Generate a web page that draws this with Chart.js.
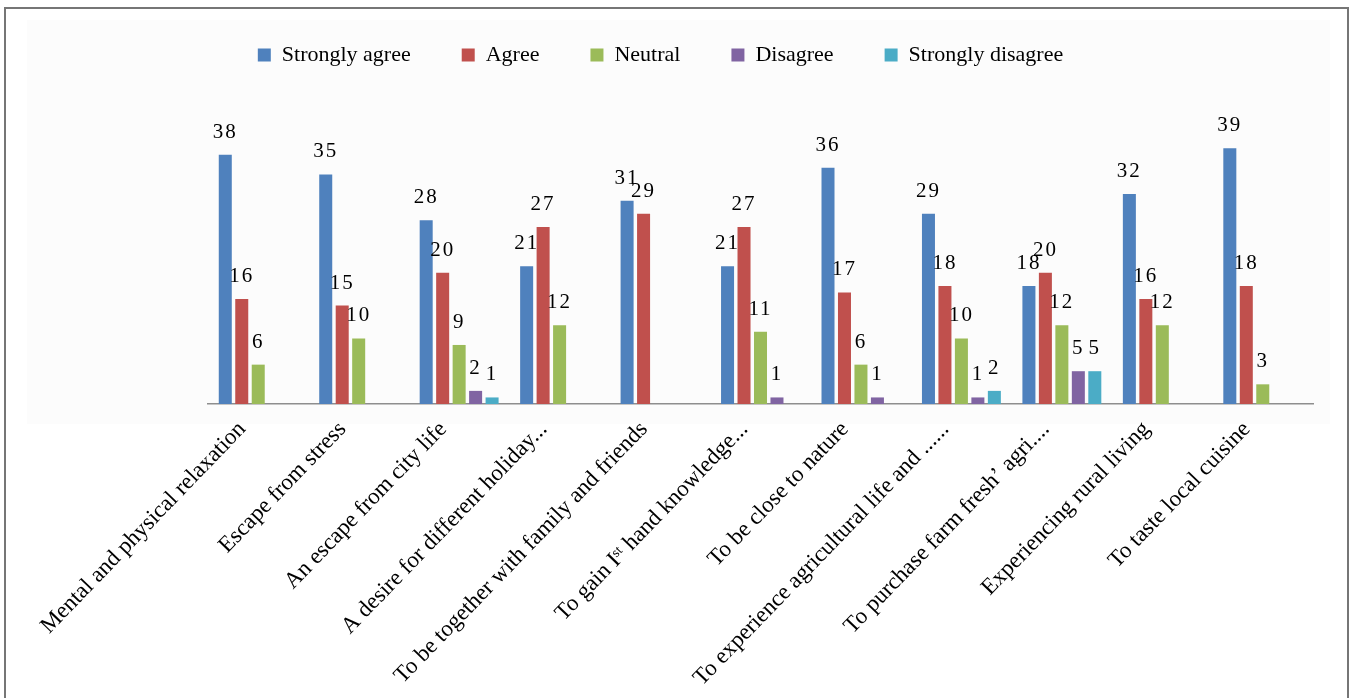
<!DOCTYPE html>
<html>
<head>
<meta charset="utf-8">
<script src="https://cdn.jsdelivr.net/npm/chart.js@4"></script>
<style>
  body { margin: 0; background: #fff; }
  .frame { position: absolute; left: 4px; top: 7px; width: 1341px; height: 720px; border: 2px solid #767676; }
  .panel { position: absolute; left: 27px; top: 20px; width: 1303px; height: 404px; background: #fcfcfc; }
  #motiveChart { position: absolute; left: 0; top: 0; }
</style>
</head>
<body>
<div class="frame"></div>
<div class="panel"></div>
<canvas id="motiveChart" width="1350" height="698"></canvas>
<script>
const categories = [
  'Mental and physical relaxation',
  'Escape from stress',
  'An escape from city life',
  'A desire for different holiday...',
  'To be together with family and friends',
  'To gain I\u02e2\u1d57 hand knowledge...',
  'To be close to nature',
  'To experience agricultural life and ......',
  'To purchase farm fresh\u2019 agri....',
  'Experiencing rural living',
  'To taste local cuisine'
];

const stronglyAgree    = [38, 35, 28, 21, 31, 21, 36, 29, 18, 32, 39];
const agree            = [16, 15, 20, 27, 29, 27, 17, 18, 20, 16, 18];
const neutral          = [6, 10, 9, 12, 0, 11, 6, 10, 12, 12, 3];
const disagree         = [0, 0, 2, 0, 0, 1, 1, 1, 5, 0, 0];
const stronglyDisagree = [0, 0, 1, 0, 0, 0, 0, 2, 5, 0, 0];

const seriesNames  = ['Strongly agree', 'Agree', 'Neutral', 'Disagree', 'Strongly disagree'];
const seriesColors = ['#4f81bd', '#c0504d', '#9bbb59', '#8064a2', '#4bacc6'];

const serif = "'Liberation Serif', 'Times New Roman', serif";

// value labels above each bar, zero values left blank
const barValueLabels = {
  id: 'barValueLabels',
  afterDatasetsDraw(chart) {
    const ctx = chart.ctx;
    ctx.save();
    ctx.font = '21px ' + serif;
    ctx.fillStyle = '#000';
    ctx.textAlign = 'center';
    ctx.textBaseline = 'alphabetic';
    if ('letterSpacing' in ctx) ctx.letterSpacing = '2px';
    chart.data.datasets.forEach((ds, i) => {
      const meta = chart.getDatasetMeta(i);
      meta.data.forEach((bar, j) => {
        const v = ds.data[j];
        if (!v) return;
        ctx.fillText(String(v), bar.x, bar.y - 17);
      });
    });
    ctx.restore();
  }
};

document.addEventListener('DOMContentLoaded', () => {
  const values = [stronglyAgree, agree, neutral, disagree, stronglyDisagree];
  const ctx = document.getElementById('motiveChart').getContext('2d');

  new Chart(ctx, {
    type: 'bar',
    data: {
      labels: categories,
      datasets: seriesNames.map((name, i) => ({
        label: name,
        data: values[i],
        backgroundColor: seriesColors[i],
        borderWidth: 0,
        categoryPercentage: 0.82,
        barPercentage: 0.79
      }))
    },
    options: {
      responsive: false,
      animation: false,
      layout: { padding: { left: 8, right: 37, top: -7, bottom: 0 } },
      plugins: {
        tooltip: { enabled: false },
        legend: {
          position: 'top',
          labels: {
            boxWidth: 13,
            boxHeight: 13,
            padding: 51,
            color: '#000',
            font: { family: serif, size: 22 }
          }
        }
      },
      scales: {
        x: {
          grid: { display: true, drawOnChartArea: false, drawTicks: false },
          border: { display: true, color: '#8e8e8e', width: 1.5 },
          ticks: {
            autoSkip: false,
            minRotation: 46,
            maxRotation: 46,
            padding: 12,
            labelOffset: -16,
            color: '#000',
            font: { family: serif, size: 23 }
          },
          afterFit: (scale) => { scale.height = 294; }
        },
        y: {
          min: 0,
          max: 50,
          grid: { display: false },
          border: { display: false },
          ticks: { display: false },
          afterFit: (scale) => { scale.width = 200; }
        }
      }
    },
    plugins: [barValueLabels]
  });
});
</script>
</body>
</html>
